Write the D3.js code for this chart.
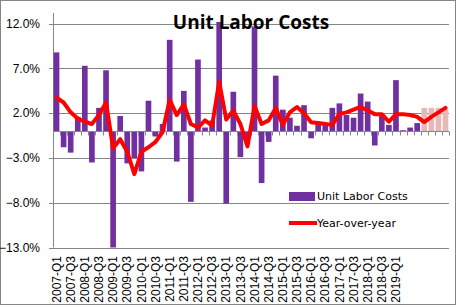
<!DOCTYPE html>
<html><head><meta charset="utf-8">
<script src="https://cdn.jsdelivr.net/npm/d3@7"></script>
<style>body{margin:0;background:#fff}svg{display:block}</style>
</head><body>
<script>
// ---- data ----
const years = d3.range(2007, 2021);
const quarters = years.flatMap(y => ["Q1","Q2","Q3","Q4"].map(q => y + "-" + q));
const ulcActual = [8.8,-1.8,-2.4,1.6,7.3,-3.5,2.6,6.8,-13.0,1.7,-3.6,-3.0,-4.5,3.4,-0.6,0.8,
  10.2,-3.4,4.5,-7.9,8.0,0.4,1.2,12.2,-8.1,4.4,-2.9,-0.9,11.7,-5.8,-1.2,6.2,2.4,1.5,0.6,2.9,
  -0.8,0.8,0.8,2.6,3.1,1.8,1.5,4.2,3.3,-1.6,1.8,0.7,5.7,0.1,0.4,0.9];
const ulcForecast = [2.6,2.6,2.6,2.6];
const yoy = [3.75,3.2,2.1,1.4,1.05,0.8,1.8,3.2,-1.9,-0.9,-2.3,-4.8,-2.3,-1.8,-1.2,-0.1,
  3.5,1.8,3.0,0.8,0.4,1.2,0.6,5.5,1.3,2.3,0.8,-1.7,2.8,0.8,1.2,2.6,0.7,2.1,2.7,2.0,
  1.0,0.9,0.8,0.7,1.9,2.1,2.4,2.7,2.3,1.9,1.9,1.05,1.9,1.9,1.8,1.6,1.0,1.6,2.1,2.6];
const yTicks = [12, 7, 2, -3, -8, -13];
const xTickLabels = quarters.filter((q, i) => i % 2 === 0 && i <= 48);
const title = "Unit Labor Costs";
const legendLabels = ["Unit Labor Costs", "Year-over-year"];

// ---- layout ----
const W = 457, H = 306;
const svg = d3.select("body").append("svg").attr("width", W).attr("height", H);
svg.append("rect").attr("x",0.5).attr("y",0.5).attr("width",W-2).attr("height",H-2)
  .attr("fill","#fff").attr("stroke","#868686");

const L = 53, R = 449, T = 13, B = 247.5;
const x = d3.scaleBand().domain(quarters).range([L, R]).paddingInner(0.2).paddingOuter(0.1);
const y = d3.scaleLinear().domain([-13, 13.2]).range([B, T]);
const grid = "#868686";

// gridlines
svg.append("g").selectAll("line").data(yTicks).join("line")
  .attr("x1", L - 4).attr("x2", R).attr("y1", d => Math.round(y(d)) + 0.5).attr("y2", d => Math.round(y(d)) + 0.5)
  .attr("stroke", grid).attr("stroke-width", 1);
// y axis line
svg.append("line").attr("x1", L + 0.5).attr("x2", L + 0.5).attr("y1", T).attr("y2", B)
  .attr("stroke", grid);
// y labels
svg.append("g").selectAll("text").data(yTicks).join("text")
  .attr("x", 40).attr("y", d => y(d)).attr("dy", "0.35em").attr("text-anchor", "end")
  .attr("font-family", "Liberation Sans, Arial, sans-serif").attr("font-size", 12).attr("fill", "#000")
  .text(d => d3.format(".1f")(d) + "%");

// bars
const bars = quarters.map((q, i) => ({q, v: i < ulcActual.length ? ulcActual[i] : ulcForecast[i - ulcActual.length], f: i >= ulcActual.length}));
svg.append("g").selectAll("rect").data(bars).join("rect")
  .attr("x", d => x(d.q)).attr("width", x.bandwidth())
  .attr("y", d => y(Math.max(0, d.v))).attr("height", d => Math.abs(y(d.v) - y(0)))
  .attr("fill", d => d.f ? "#E6B9B8" : "#7030A0");

// category axis at zero
const y0 = Math.round(y(0)) + 0.5;
svg.append("line").attr("x1", L).attr("x2", R).attr("y1", y0).attr("y2", y0).attr("stroke", grid);
svg.append("g").selectAll("line").data(d3.range(quarters.length + 1)).join("line")
  .attr("x1", i => Math.round(L + i * (R - L) / quarters.length) + 0.5)
  .attr("x2", i => Math.round(L + i * (R - L) / quarters.length) + 0.5)
  .attr("y1", y0).attr("y2", y0 + 4).attr("stroke", grid);

// x labels
svg.append("g").selectAll("text").data(xTickLabels).join("text")
  .attr("transform", d => `translate(${x(d) + x.bandwidth()/2},256) rotate(-90)`)
  .attr("text-anchor", "end").attr("dy", "0.35em")
  .attr("font-family", "Liberation Sans, Arial, sans-serif").attr("font-size", 12).attr("fill", "#000")
  .text(d => d);

// yoy line
const line = d3.line().x((d, i) => x(quarters[i]) + x.bandwidth()/2).y(d => y(d));
svg.append("path").datum(yoy).attr("d", line).attr("fill", "none")
  .attr("stroke", "#FF0000").attr("stroke-width", 4).attr("stroke-linejoin", "round").attr("stroke-linecap", "round");

// title
svg.append("text").attr("x", 251).attr("y", 29).attr("text-anchor", "middle")
  .attr("font-family", "Open Sans, sans-serif").attr("font-weight", "bold").attr("font-size", 19)
  .attr("fill", "#000").text(title);

// legend
const lg = svg.append("g");
lg.append("rect").attr("x", 289).attr("y", 192).attr("width", 26).attr("height", 9).attr("fill", "#7030A0");
lg.append("line").attr("x1", 289).attr("x2", 317).attr("y1", 223).attr("y2", 223)
  .attr("stroke", "#FF0000").attr("stroke-width", 4);
lg.selectAll("text").data(legendLabels).join("text")
  .attr("x", 317).attr("y", (d, i) => i === 0 ? 196.5 : 223).attr("dy", "0.35em")
  .attr("font-family", "DejaVu Sans, sans-serif").attr("font-size", 11).attr("fill", "#000")
  .text(d => d);
</script>
</body></html>
